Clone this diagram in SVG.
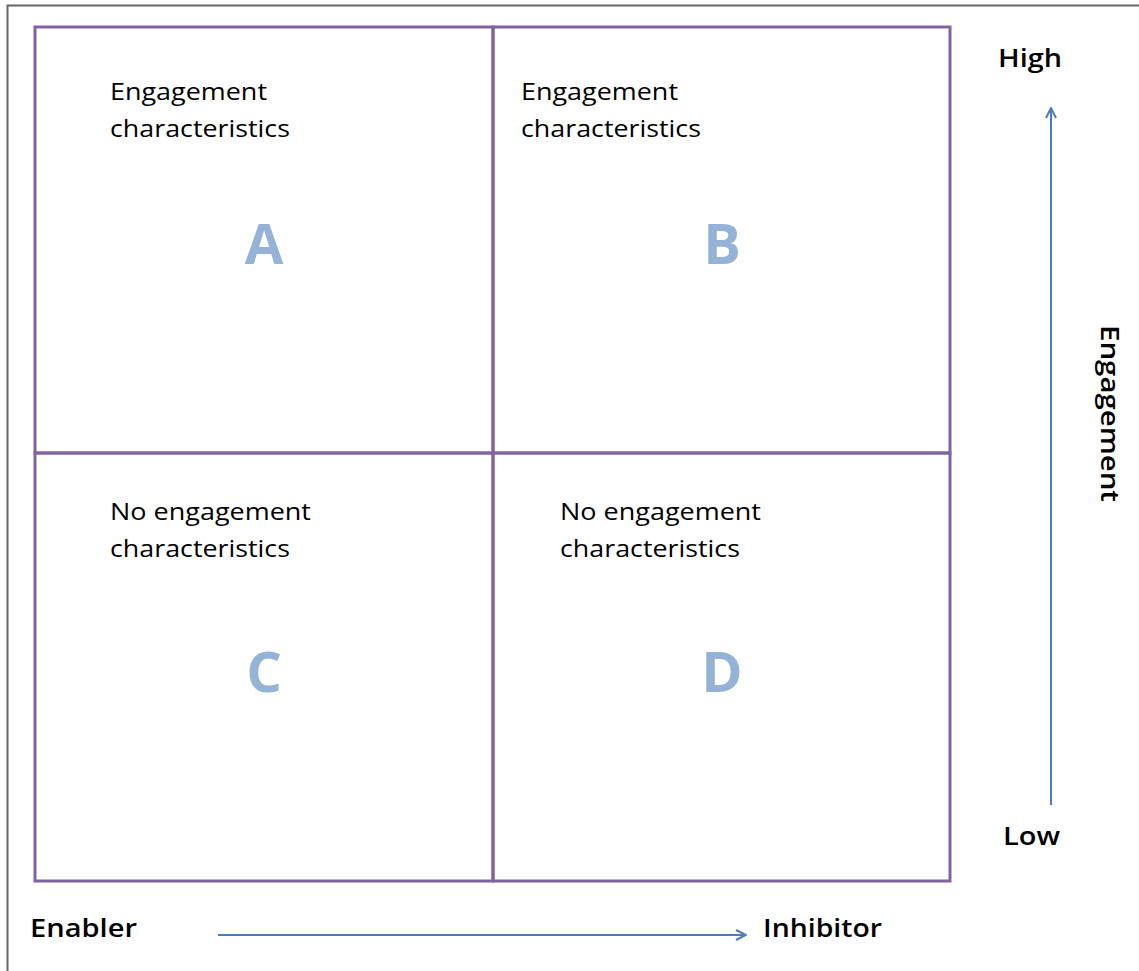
<svg xmlns="http://www.w3.org/2000/svg" width="1139" height="971" viewBox="0 0 1139 971">
<style>
.cell{fill:none;stroke:#8064A2;stroke-width:3}
.lbl{font-family:"Open Sans","Liberation Sans",Arial,sans-serif;font-size:23px;fill:#000}
.big{font-family:"Open Sans","Liberation Sans",Arial,sans-serif;font-size:56px;font-weight:bold;fill:#95B3D7;text-anchor:middle}
.ax{font-family:"Open Sans","Liberation Sans",Arial,sans-serif;font-size:26px;font-weight:600;fill:#000}
.arr{stroke:#4A7EBB;stroke-width:2;fill:none}
</style>
<defs>
<marker id="ah" viewBox="0 0 12 12" refX="11" refY="6" markerWidth="12" markerHeight="12" markerUnits="userSpaceOnUse" orient="auto">
<path d="M1,1 L11,6 L1,11" fill="none" stroke="#4A7EBB" stroke-width="2"/>
</marker>
</defs>
<rect width="1139" height="971" fill="#fff"/>
<path d="M7.5,971 V5.5 H1139" fill="none" stroke="#666" stroke-width="2"/>
<g id="cellA">
<rect class="cell" x="35" y="27" width="458" height="426"/>
<text class="lbl" x="110" y="100" textLength="157" lengthAdjust="spacingAndGlyphs">Engagement</text>
<text class="lbl" x="110" y="137" textLength="180" lengthAdjust="spacingAndGlyphs">characteristics</text>
<text class="big" x="264" y="264">A</text>
</g>
<g id="cellB">
<rect class="cell" x="493" y="27" width="457" height="426"/>
<text class="lbl" x="521" y="100" textLength="157" lengthAdjust="spacingAndGlyphs">Engagement</text>
<text class="lbl" x="521" y="137" textLength="180" lengthAdjust="spacingAndGlyphs">characteristics</text>
<text class="big" x="722" y="264">B</text>
</g>
<g id="cellC">
<rect class="cell" x="35" y="453" width="458" height="428"/>
<text class="lbl" x="110" y="520" textLength="201" lengthAdjust="spacingAndGlyphs">No engagement</text>
<text class="lbl" x="110" y="557" textLength="180" lengthAdjust="spacingAndGlyphs">characteristics</text>
<text class="big" x="264" y="692">C</text>
</g>
<g id="cellD">
<rect class="cell" x="493" y="453" width="457" height="428"/>
<text class="lbl" x="560" y="520" textLength="201" lengthAdjust="spacingAndGlyphs">No engagement</text>
<text class="lbl" x="560" y="557" textLength="180" lengthAdjust="spacingAndGlyphs">characteristics</text>
<text class="big" x="722" y="692">D</text>
</g>
<g id="labels">
<text class="ax" x="998" y="67" font-weight="bold" textLength="64" lengthAdjust="spacingAndGlyphs">High</text>
<text class="ax" x="1003" y="845" textLength="57" lengthAdjust="spacingAndGlyphs">Low</text>
<text class="ax" x="30" y="937" textLength="107" lengthAdjust="spacingAndGlyphs">Enabler</text>
<text class="ax" x="763" y="937" textLength="119" lengthAdjust="spacingAndGlyphs">Inhibitor</text>
<text class="ax" transform="translate(1101,325) rotate(90)" textLength="177" lengthAdjust="spacingAndGlyphs">Engagement</text>
</g>
<g id="connectors">
<line class="arr" x1="1051" y1="805" x2="1051" y2="108" marker-end="url(#ah)"/>
<line class="arr" x1="218" y1="935" x2="746" y2="935" marker-end="url(#ah)"/>
</g>
</svg>
